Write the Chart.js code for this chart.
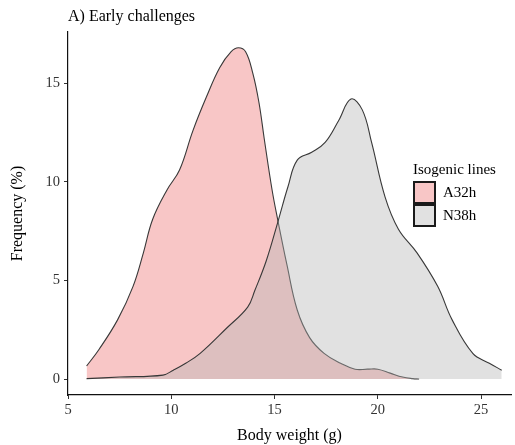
<!DOCTYPE html>
<html>
<head>
<meta charset="utf-8">
<script src="https://cdn.jsdelivr.net/npm/chart.js@4.4.1/dist/chart.umd.min.js"></script>
<style>
  body { margin: 0; background: #fff; }
  #wrap { position: relative; width: 515px; height: 445px; font-family: "Liberation Serif", "Times New Roman", serif; }
  #plotTitle { position: absolute; left: 68px; top: 7px; font-size: 16px; color: #000; }
  #legend { position: absolute; left: 413px; top: 161px; font-size: 15px; color: #000; }
  #legend .row { display: flex; align-items: center; height: 23px; }
  #legend .key { width: 19px; height: 19px; border: 2px solid #1a1a1a; margin-right: 7px; }
  #legend .head { margin-bottom: 3px; }
</style>
</head>
<body>
<div id="wrap">
  <canvas id="myChart"></canvas>
  <div id="plotTitle">A) Early challenges</div>
  <div id="legend"></div>
</div>
<script>
// Body weight (g) / frequency (%)
const a32hWeight = [5.9, 6.5, 7.4, 8.15, 8.65, 9.1, 9.8, 10.4, 11.05, 11.7, 12.35, 12.9, 13.25, 13.6, 13.95, 14.25, 14.5, 14.88, 15.17, 15.6, 16.1, 16.7, 17.4, 18.2, 18.9, 19.5, 20.0, 20.6, 21.2, 21.7, 22.0];
const a32hFreq   = [0.66, 1.5, 3.0, 4.7, 6.4, 8.1, 9.6, 10.6, 12.6, 14.3, 15.8, 16.6, 16.8, 16.6, 15.5, 14.0, 12.2, 9.6, 8.0, 5.8, 3.5, 2.1, 1.3, 0.8, 0.5, 0.5, 0.5, 0.3, 0.1, 0.02, 0];

const n38hWeight = [5.9, 7.5, 9.6, 10.1, 10.7, 11.4, 12.7, 13.7, 14.05, 14.6, 15.17, 15.65, 16.1, 16.8, 17.45, 18.1, 18.7, 19.25, 19.7, 20.35, 21.0, 21.9, 22.9, 23.6, 24.6, 25.4, 26.0];
const n38hFreq   = [0.02, 0.1, 0.2, 0.45, 0.8, 1.3, 2.6, 3.65, 4.5, 6.0, 8.0, 9.75, 11.1, 11.5, 12.0, 13.1, 14.2, 13.65, 12.0, 9.24, 7.6, 6.4, 4.7, 3.0, 1.3, 0.8, 0.45];

const seriesNames = ['A32h', 'N38h'];
const xTicks = [5, 10, 15, 20, 25];
const yTicks = [0, 5, 10, 15];

const pinkFill = 'rgba(238, 120, 118, 0.42)';
const greyFill = 'rgba(180, 180, 180, 0.40)';
const keyColors = ['#f8c6c6', '#e1e1e1'];

function toPoints(xs, ys) {
    return xs.map((x, i) => ({ x: x, y: ys[i] }));
}

const serif = '"Liberation Serif", "Times New Roman", serif';

const config = {
    type: 'line',
    data: {
        datasets: [{
            label: seriesNames[0],
            data: toPoints(a32hWeight, a32hFreq),
            borderColor: '#383838',
            borderWidth: 1.1,
            backgroundColor: pinkFill,
            fill: 'origin',
            pointRadius: 0,
            tension: 0.4,
            order: 1
        }, {
            label: seriesNames[1],
            data: toPoints(n38hWeight, n38hFreq),
            borderColor: '#383838',
            borderWidth: 1.1,
            backgroundColor: greyFill,
            fill: 'origin',
            pointRadius: 0,
            tension: 0.4,
            order: 0
        }]
    },
    options: {
        responsive: true,
        maintainAspectRatio: false,
        animation: false,
        layout: { padding: { top: 32, right: 4, left: 0, bottom: 0 } },
        plugins: {
            legend: { display: false },
            tooltip: { enabled: false }
        },
        scales: {
            x: {
                type: 'linear',
                min: 5,
                max: 26.45,
                afterBuildTicks: scale => { scale.ticks = xTicks.map(v => ({ value: v })); },
                afterFit: scale => { scale.height = 50; },
                grid: { drawOnChartArea: false, drawTicks: true, tickLength: 4, color: '#333' },
                border: { display: true, color: '#111', width: 1.2 },
                ticks: { color: '#333', font: { family: serif, size: 14.5 }, padding: 2, maxRotation: 0 },
                title: { display: true, text: 'Body weight (g)', color: '#000', font: { family: serif, size: 16 }, padding: { top: 2, bottom: 0 } }
            },
            y: {
                type: 'linear',
                min: -0.81,
                max: 17.6,
                afterBuildTicks: scale => { scale.ticks = yTicks.map(v => ({ value: v })); },
                afterFit: scale => { scale.width = 68; },
                grid: { drawOnChartArea: false, drawTicks: true, tickLength: 4, color: '#333' },
                border: { display: true, color: '#111', width: 1.2 },
                ticks: { color: '#333', font: { family: serif, size: 14.5 }, padding: 4 },
                title: { display: true, text: 'Frequency (%)', color: '#000', font: { family: serif, size: 16 }, padding: { top: 8, bottom: 4 } }
            }
        }
    }
};

// Legend drawn inside the panel, like the original
function buildLegend() {
    const box = document.getElementById('legend');
    let html = '<div class="head">Isogenic lines</div>';
    seriesNames.forEach((name, i) => {
        html += '<div class="row"><div class="key" style="background:' + keyColors[i] + '"></div>' + name + '</div>';
    });
    box.innerHTML = html;
}

window.onload = function () {
    buildLegend();
    new Chart(document.getElementById('myChart'), config);
};
</script>
</body>
</html>
